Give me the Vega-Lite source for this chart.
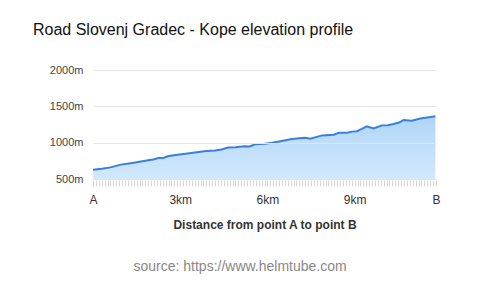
{
  "$schema": "https://vega.github.io/schema/vega-lite/v6.json",
  "autosize": {"type": "none"},
  "width": 343,
  "height": 109,
  "padding": {"left": 93, "top": 70, "right": 44, "bottom": 108},
  "background": "white",
  "config": {"font": "Liberation Sans", "view": {"stroke": null}},
  "title": {
    "text": "Road Slovenj Gradec - Kope elevation profile",
    "anchor": "start",
    "frame": "group",
    "dx": -60,
    "offset": 26,
    "fontSize": 16,
    "fontWeight": "normal",
    "color": "#111111",
    "font": "Liberation Sans"
  },
  "layer": [
    {
      "data": {"values": [
        {"km": 0.0, "elev": 628},
        {"km": 0.3, "elev": 640},
        {"km": 0.6, "elev": 660},
        {"km": 0.96, "elev": 698},
        {"km": 1.3, "elev": 718},
        {"km": 1.7, "elev": 745},
        {"km": 2.11, "elev": 772},
        {"km": 2.28, "elev": 792},
        {"km": 2.4, "elev": 785},
        {"km": 2.57, "elev": 812},
        {"km": 2.84, "elev": 830},
        {"km": 3.19, "elev": 848},
        {"km": 3.5, "elev": 866},
        {"km": 3.9, "elev": 884},
        {"km": 4.2, "elev": 893},
        {"km": 4.42, "elev": 905},
        {"km": 4.65, "elev": 932},
        {"km": 4.9, "elev": 938},
        {"km": 5.22, "elev": 952},
        {"km": 5.4, "elev": 948},
        {"km": 5.57, "elev": 978},
        {"km": 5.91, "elev": 985},
        {"km": 6.16, "elev": 998},
        {"km": 6.45, "elev": 1020},
        {"km": 6.84, "elev": 1050},
        {"km": 7.1, "elev": 1060},
        {"km": 7.3, "elev": 1066},
        {"km": 7.48, "elev": 1054},
        {"km": 7.88, "elev": 1100},
        {"km": 8.28, "elev": 1110},
        {"km": 8.46, "elev": 1136},
        {"km": 8.74, "elev": 1138},
        {"km": 8.91, "elev": 1152},
        {"km": 9.08, "elev": 1158},
        {"km": 9.25, "elev": 1190},
        {"km": 9.42, "elev": 1224},
        {"km": 9.65, "elev": 1196},
        {"km": 9.94, "elev": 1238},
        {"km": 10.15, "elev": 1240},
        {"km": 10.34, "elev": 1258},
        {"km": 10.55, "elev": 1280},
        {"km": 10.68, "elev": 1312},
        {"km": 10.97, "elev": 1302},
        {"km": 11.26, "elev": 1332},
        {"km": 11.5, "elev": 1345},
        {"km": 11.78, "elev": 1362}
      ]},
      "mark": {
        "type": "area",
        "clip": true,
        "color": {
          "gradient": "linear",
          "x1": 1, "y1": 1, "x2": 1, "y2": 0,
          "stops": [
            {"offset": 0, "color": "#ddefff"},
            {"offset": 1, "color": "#8cc3f5"}
          ]
        },
        "line": {"color": "#3a7fdd", "strokeWidth": 2}
      },
      "encoding": {
        "x": {
          "field": "km",
          "type": "quantitative",
          "scale": {"domain": [0, 11.8], "nice": false},
          "axis": {
            "title": "Distance from point A to point B",
            "titleFontSize": 12,
            "titleFontWeight": "bold",
            "titleColor": "#333333",
            "titlePadding": 14,
            "tickCount": 118,
            "tickSize": 6,
            "tickColor": "#d4d4d4",
            "offset": 1,
            "domain": false,
            "grid": false,
            "labelOverlap": false,
            "labelFlush": false,
            "labelBound": false,
            "labelFontSize": 12,
            "labelColor": "#333333",
            "labelPadding": 8,
            "labelExpr": "datum.value == 0 ? 'A' : (datum.value == 11.8 ? 'B' : ((datum.value == 3 || datum.value == 6 || datum.value == 9) ? datum.value + 'km' : ''))"
          }
        },
        "y": {
          "field": "elev",
          "type": "quantitative",
          "scale": {"domain": [500, 2000], "nice": false, "zero": false},
          "axis": {
            "title": null,
            "values": [500, 1000, 1500, 2000],
            "labelExpr": "datum.value + 'm'",
            "labelFontSize": 11,
            "labelColor": "#444444",
            "labelPadding": 10,
            "labelOverlap": false,
            "ticks": false,
            "domain": false,
            "gridColor": "#e4e4e4",
            "gridWidth": 1,
            "zindex": 1
          }
        }
      }
    },
    {
      "data": {"values": [{"t": "source: https://www.helmtube.com"}]},
      "mark": {
        "type": "text",
        "fontSize": 14,
        "color": "#888888",
        "align": "center",
        "baseline": "alphabetic",
        "dy": 92
      },
      "encoding": {
        "text": {"field": "t"},
        "x": {"datum": 5.06},
        "y": {
          "datum": 500,
          "axis": {
            "title": null,
            "values": [500, 1000, 1500, 2000],
            "labelExpr": "datum.value + 'm'",
            "labelFontSize": 11,
            "labelColor": "#444444",
            "labelPadding": 10,
            "labelOverlap": false,
            "ticks": false,
            "domain": false,
            "gridColor": "#e4e4e4",
            "gridWidth": 1,
            "zindex": 1
          }
        }
      }
    }
  ]
}
